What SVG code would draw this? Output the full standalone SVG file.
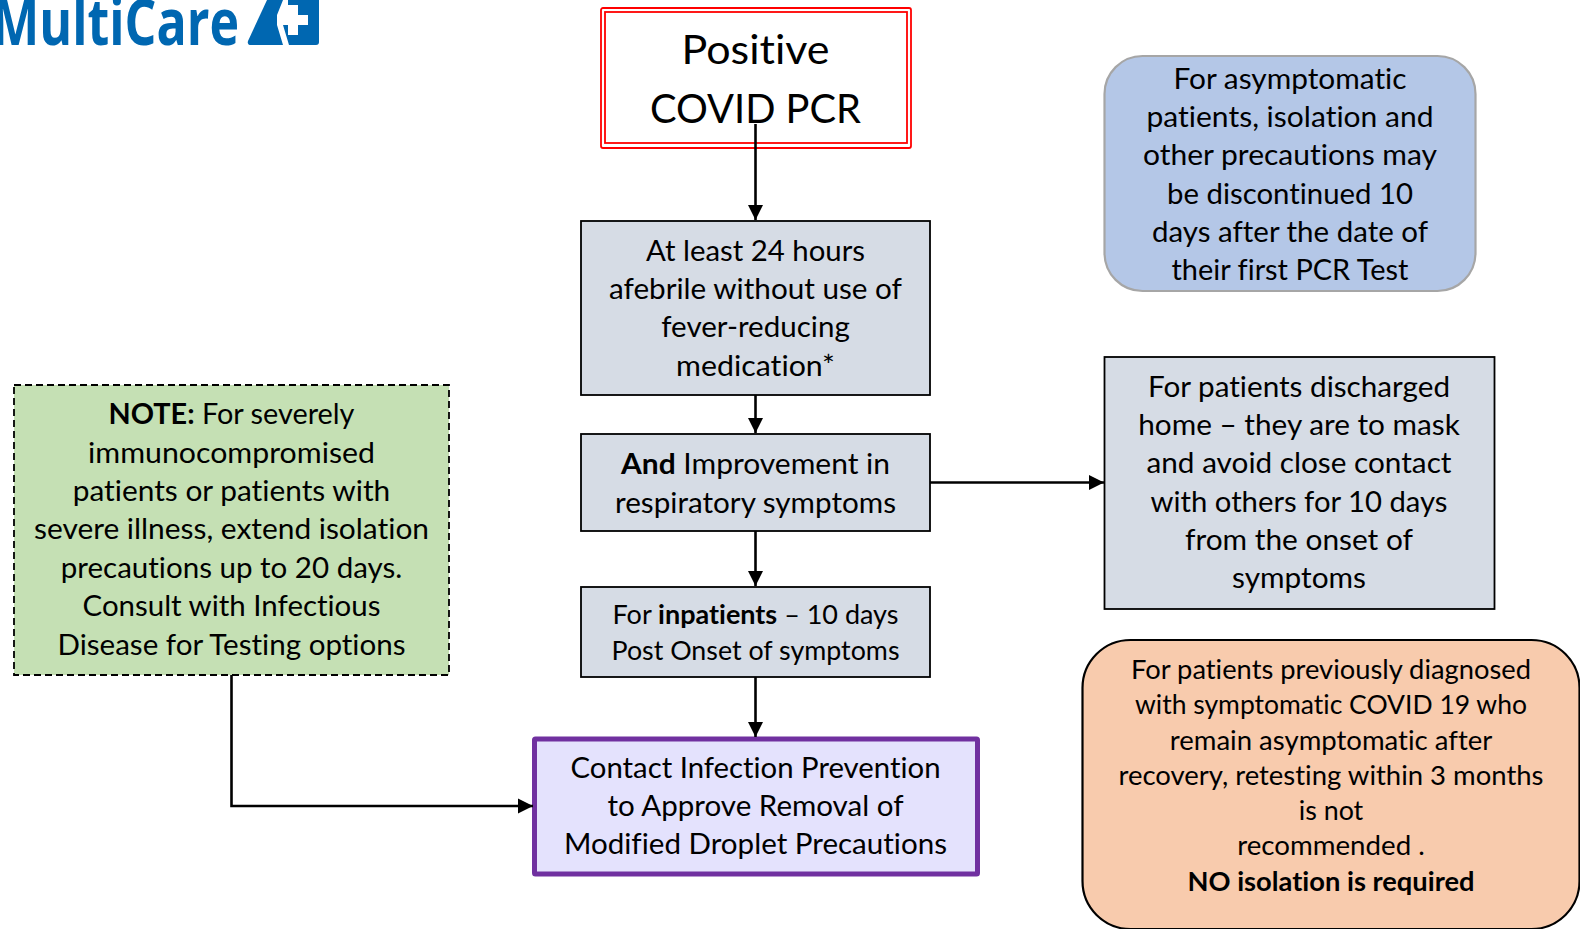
<svg xmlns="http://www.w3.org/2000/svg" width="1580" height="929" viewBox="0 0 1580 929">
<style>
text{font-family:"Lato","Carlito","Liberation Sans",sans-serif;fill:#000;text-anchor:middle;font-size:28px;font-variant-ligatures:none;font-kerning:normal;transform:translateY(0.8px)}
.b{font-weight:700}
.s{font-size:26.5px}
.xl{font-size:41px}
.box{stroke:#000;stroke-width:1.8}
.c{fill:none;stroke:#000;stroke-width:2.6}
</style>
<defs>
<marker id="ah" markerUnits="userSpaceOnUse" markerWidth="16" markerHeight="16" refX="15" refY="8" orient="auto"><path d="M0 0.5L15 8L0 15.5Z" fill="#000"/></marker>
</defs>
<g id="logo">
<text x="-8" y="45" style="font-family:'Open Sans',sans-serif;font-size:64px;font-weight:700;fill:#0067b1;text-anchor:start;transform:none" textLength="247" lengthAdjust="spacingAndGlyphs">MultiCare</text>
<path d="M267 0H319V42Q319 45 316 45H251Q247 45 248 41Z" fill="#0067b1"/>
<path d="M283 0H288V5H298V15H308V25H298V35H288V25H283L289 45H283L277 25V15Z" fill="#fff"/>
</g>
<g id="node-positive">
<rect x="601" y="8" width="310" height="140" rx="2" fill="#fff" stroke="#f00" stroke-width="1.8"/>
<rect x="605" y="12" width="302" height="131" fill="#fff" stroke="#f00" stroke-width="1.8"/>
<text class="xl" x="755.5" y="63" textLength="148" lengthAdjust="spacingAndGlyphs">Positive</text>
<text class="xl" x="755.5" y="122" textLength="211" lengthAdjust="spacingAndGlyphs">COVID PCR</text>
</g>
<g id="node-afebrile">
<rect class="box" x="581" y="221" width="349" height="174" fill="#d6dce5"/>
<text x="755.5" y="260" textLength="219" lengthAdjust="spacingAndGlyphs">At least 24 hours</text>
<text x="755.5" y="298.5" textLength="293" lengthAdjust="spacingAndGlyphs">afebrile without use of</text>
<text x="755.5" y="336.5" textLength="188.5" lengthAdjust="spacingAndGlyphs">fever-reducing</text>
<text x="755.5" y="375" textLength="159" lengthAdjust="spacingAndGlyphs">medication*</text>
</g>
<g id="node-improvement">
<rect class="box" x="581" y="434" width="349" height="97" fill="#d6dce5"/>
<text x="755.5" y="473.5" textLength="269" lengthAdjust="spacingAndGlyphs"><tspan class="b">And</tspan> Improvement in</text>
<text x="755.5" y="512" textLength="281" lengthAdjust="spacingAndGlyphs">respiratory symptoms</text>
</g>
<g id="node-inpatients">
<rect class="box" x="581" y="587" width="349" height="90" fill="#d6dce5"/>
<text class="s" x="755.5" y="623.5" textLength="286" lengthAdjust="spacingAndGlyphs">For <tspan class="b">inpatients</tspan> – 10 days</text>
<text class="s" x="755.5" y="659.5" textLength="288" lengthAdjust="spacingAndGlyphs">Post Onset of symptoms</text>
</g>
<g id="node-contact">
<rect x="534.5" y="739" width="443" height="135" rx="1" fill="#e4e2fd" stroke="#7030a0" stroke-width="5"/>
<text x="755.5" y="777" textLength="370" lengthAdjust="spacingAndGlyphs">Contact Infection Prevention</text>
<text x="755.5" y="815" textLength="296" lengthAdjust="spacingAndGlyphs">to Approve Removal of</text>
<text x="755.5" y="853" textLength="383" lengthAdjust="spacingAndGlyphs">Modified Droplet Precautions</text>
</g>
<g id="node-note">
<rect x="14" y="385" width="435" height="290" fill="#c5e0b4" stroke="#000" stroke-width="1.8" stroke-dasharray="7 4"/>
<text x="231.5" y="423" textLength="246" lengthAdjust="spacingAndGlyphs"><tspan class="b">NOTE:</tspan> For severely</text>
<text x="231.5" y="462" textLength="287" lengthAdjust="spacingAndGlyphs">immunocompromised</text>
<text x="231.5" y="500" textLength="317.5" lengthAdjust="spacingAndGlyphs">patients or patients with</text>
<text x="231.5" y="538" textLength="395" lengthAdjust="spacingAndGlyphs">severe illness, extend isolation</text>
<text x="231.5" y="577" textLength="341.5" lengthAdjust="spacingAndGlyphs">precautions up to 20 days.</text>
<text x="231.5" y="615.5" textLength="298" lengthAdjust="spacingAndGlyphs">Consult with Infectious</text>
<text x="231.5" y="654" textLength="348" lengthAdjust="spacingAndGlyphs">Disease for Testing options</text>
</g>
<g id="node-asymptomatic">
<rect x="1104.5" y="56" width="371" height="235" rx="38" fill="#b4c7e7" stroke="#a6a6a6" stroke-width="2.2"/>
<text x="1290" y="88" textLength="233" lengthAdjust="spacingAndGlyphs">For asymptomatic</text>
<text x="1290" y="126" textLength="287" lengthAdjust="spacingAndGlyphs">patients, isolation and</text>
<text x="1290" y="164" textLength="294" lengthAdjust="spacingAndGlyphs">other precautions may</text>
<text x="1290" y="203" textLength="246" lengthAdjust="spacingAndGlyphs">be discontinued 10</text>
<text x="1290" y="241" textLength="276" lengthAdjust="spacingAndGlyphs">days after the date of</text>
<text x="1290" y="279" textLength="237" lengthAdjust="spacingAndGlyphs">their first PCR Test</text>
</g>
<g id="node-discharged">
<rect class="box" x="1104.5" y="357" width="390" height="252" fill="#d6dce5"/>
<text x="1299" y="396" textLength="302" lengthAdjust="spacingAndGlyphs">For patients discharged</text>
<text x="1299" y="434" textLength="321.5" lengthAdjust="spacingAndGlyphs">home – they are to mask</text>
<text x="1299" y="472.5" textLength="305" lengthAdjust="spacingAndGlyphs">and avoid close contact</text>
<text x="1299" y="511" textLength="297" lengthAdjust="spacingAndGlyphs">with others for 10 days</text>
<text x="1299" y="549" textLength="228" lengthAdjust="spacingAndGlyphs">from the onset of</text>
<text x="1299" y="587" textLength="134" lengthAdjust="spacingAndGlyphs">symptoms</text>
</g>
<g id="node-previous">
<rect x="1082.5" y="640" width="497" height="289" rx="48" fill="#f8cbad" stroke="#000" stroke-width="2.2"/>
<text class="s" x="1331" y="678" textLength="400" lengthAdjust="spacingAndGlyphs">For patients previously diagnosed</text>
<text class="s" x="1331" y="713" textLength="392" lengthAdjust="spacingAndGlyphs">with symptomatic COVID 19 who</text>
<text class="s" x="1331" y="749" textLength="322.5" lengthAdjust="spacingAndGlyphs">remain asymptomatic after</text>
<text class="s" x="1331" y="784" textLength="425" lengthAdjust="spacingAndGlyphs">recovery, retesting within 3 months</text>
<text class="s" x="1331" y="819" textLength="64.5" lengthAdjust="spacingAndGlyphs">is not</text>
<text class="s" x="1331" y="854" textLength="187.5" lengthAdjust="spacingAndGlyphs">recommended .</text>
<text class="s b" x="1331" y="890" textLength="287" lengthAdjust="spacingAndGlyphs">NO isolation is required</text>
</g>
<g id="connectors">
<path class="c" d="M755.5 124V220" marker-end="url(#ah)"/>
<path class="c" d="M755.5 395V433" marker-end="url(#ah)"/>
<path class="c" d="M755.5 531V586" marker-end="url(#ah)"/>
<path class="c" d="M755.5 677V737" marker-end="url(#ah)"/>
<path class="c" d="M930 482.5H1104" marker-end="url(#ah)"/>
<path class="c" d="M231.5 675V806H533" marker-end="url(#ah)"/>
</g>
</svg>
